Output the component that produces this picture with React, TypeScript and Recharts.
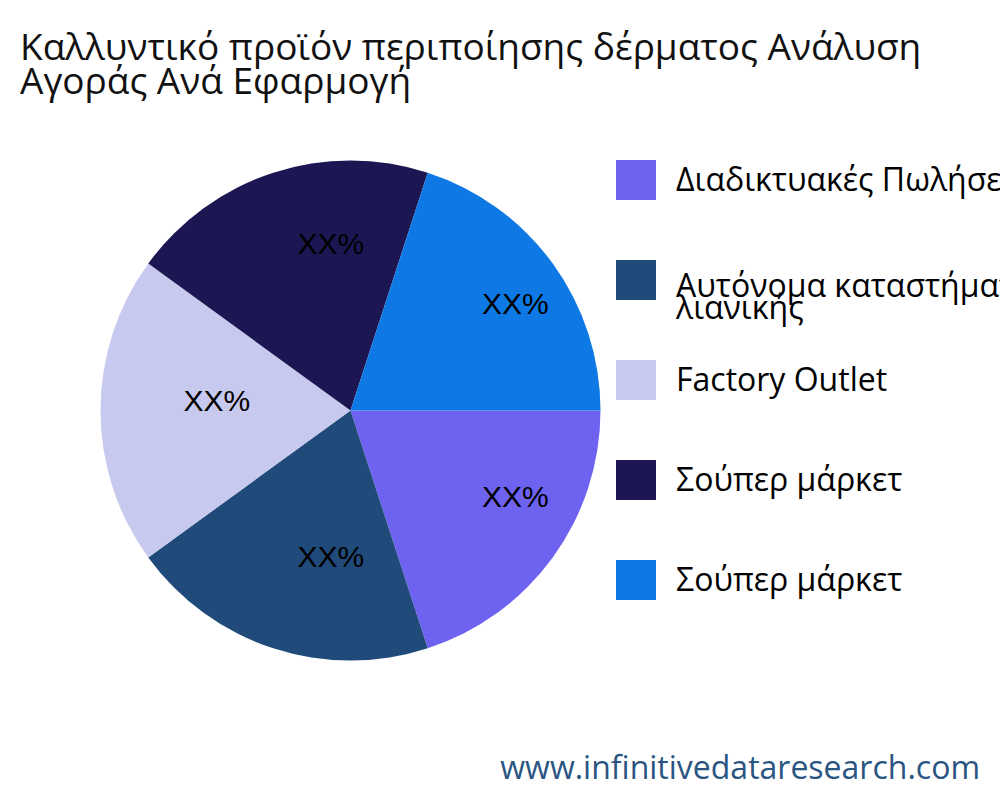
import React from 'react';
import { PieChart, Pie, Cell, Legend } from 'recharts';

const channels = [
  'Διαδικτυακές Πωλήσεις',
  'Αυτόνομα καταστήματα λιανικής',
  'Factory Outlet',
  'Σούπερ μάρκετ',
  'Σούπερ μάρκετ',
];
const shares = [20, 20, 20, 20, 20];
const sliceColors = ['#6e62f1', '#1f4a79', '#c8c9ef', '#1c1753', '#0e79e4'];
const sliceLabel = 'XX%';

const chartTitle = ['Καλλυντικό προϊόν περιποίησης δέρματος Ανάλυση', 'Αγοράς Ανά Εφαρμογή'];
const watermark = 'www.infinitivedataresearch.com';

const data = channels.map((name, i) => ({ name, value: shares[i], color: sliceColors[i] }));

const RAD = Math.PI / 180;

// crude word wrap for legend labels
const wrapWords = (text: string, maxChars: number) => {
  const lines: string[] = [];
  let cur = '';
  text.split(' ').forEach(w => {
    const next = cur ? cur + ' ' + w : w;
    if (next.length > maxChars && cur) {
      lines.push(cur);
      cur = w;
    } else {
      cur = next;
    }
  });
  if (cur) lines.push(cur);
  return lines;
};

const renderLabel = (props: any) => {
  const { cx, cy, midAngle, outerRadius } = props;
  const r = outerRadius * 0.66;
  const x = cx + r * Math.cos(midAngle * RAD);
  const y = cy - r * Math.sin(midAngle * RAD);
  return (
    <text x={x - 2} y={y} textAnchor="start" fill="#000" fontSize={30}
      fontFamily="'Liberation Sans', Arial, sans-serif">
      {sliceLabel}
    </text>
  );
};

// legend drawn from our own list so the order stays as in the data
const LegendBox = () => (
  <svg width={400} height={480} style={{ display: 'block', overflow: 'hidden' }}>
    {data.map((it, i) => {
      const top = 20 + i * 100;
      const lines = wrapWords(it.name, 21);
      const base = top + 20 + 11 + (lines.length - 1) * 5.7;
      return (
        <g key={i}>
          <rect x={16} y={top} width={40} height={40} fill={it.color} />
          <text x={76} y={base} fontSize={32} fill="#000"
            fontFamily="'Open Sans', 'Noto Sans', sans-serif">
            {lines.map((ln, j) => (
              <tspan key={j} x={76} y={base + j * 22.7}>{ln}</tspan>
            ))}
          </text>
        </g>
      );
    })}
  </svg>
);

export default function App() {
  return (
    <div style={{ position: 'fixed', left: 0, top: 0, width: 1000, height: 800, overflow: 'hidden', background: '#fff' }}>
      <svg width={1000} height={110} style={{ position: 'absolute', left: 0, top: 0 }}>
        {chartTitle.map((t, i) => (
          <text key={i} x={20} y={60 + i * 34} fontSize={37} fill="#111"
            fontFamily="'Open Sans', sans-serif">{t}</text>
        ))}
      </svg>
      <div style={{ position: 'absolute', left: 0, top: 0 }}>
        <PieChart width={1000} height={800} margin={{ top: 0, right: 0, bottom: 0, left: 0 }}>
          <Pie
            data={data}
            dataKey="value"
            nameKey="name"
            cx={350.5}
            cy={410.5}
            outerRadius={250}
            startAngle={0}
            endAngle={-360}
            stroke="none"
            label={renderLabel}
            labelLine={false}
            isAnimationActive={false}
          >
            {data.map((d, i) => <Cell key={i} fill={d.color} />)}
          </Pie>
          <Legend
            content={<LegendBox />}
            wrapperStyle={{ position: 'absolute', left: 600, top: 140, width: 400, height: 480 }}
          />
        </PieChart>
      </div>
      <svg width={1000} height={60} style={{ position: 'absolute', left: 0, top: 740 }}>
        <text x={980} y={39} textAnchor="end" fontSize={32} fill="#2a5582"
          fontFamily="'Open Sans', sans-serif">{watermark}</text>
      </svg>
    </div>
  );
}
